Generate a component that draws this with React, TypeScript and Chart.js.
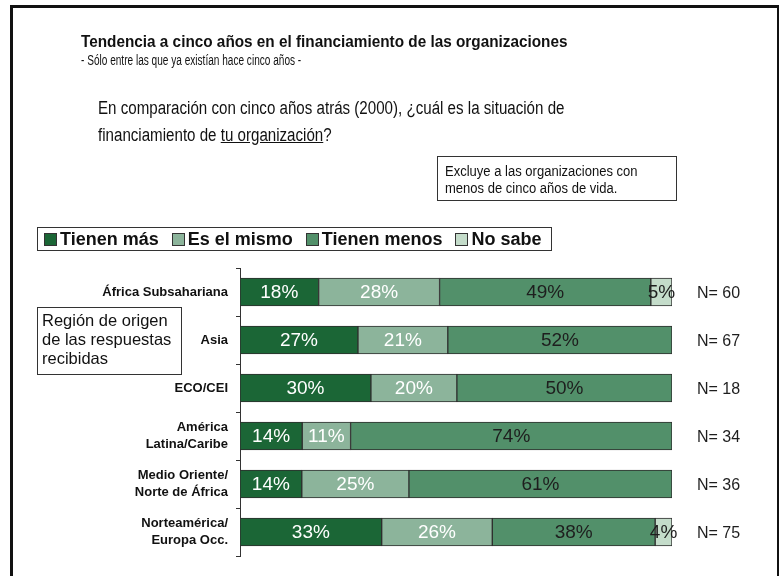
import React, { useEffect, useRef } from "react";
import { Chart, registerables } from "chart.js";

Chart.register(...registerables);

const categories: (string | string[])[] = [
  "África Subsahariana",
  "Asia",
  "ECO/CEI",
  ["América", "Latina/Caribe"],
  ["Medio Oriente/", "Norte de África"],
  ["Norteamérica/", "Europa Occ."],
];
const seriesNames = ["Tienen más", "Es el mismo", "Tienen menos", "No sabe"];
const tienenMas = [18.2, 27.3, 30.3, 14.4, 14.3, 32.8];
const esElMismo = [28.0, 20.8, 19.9, 11.2, 24.8, 25.6];
const tienenMenos = [48.9, 51.9, 49.8, 74.4, 60.9, 37.7];
const noSabe = [4.9, 0, 0, 0, 0, 3.9];
const nValues = [60, 67, 18, 34, 36, 75];

const colors = ["#1b6636", "#8cb49b", "#52906a", "#c4dcca"];
const labelColors = ["#ffffff", "#ffffff", "#1e1e1e", "#1e1e1e"];

const SANS = '"Liberation Sans", Arial, sans-serif';

const valueLabelPlugin = {
  id: "valueLabels",
  afterDatasetsDraw(chart: any) {
    const ctx = chart.ctx;
    ctx.save();
    ctx.font = `19px ${SANS}`;
    ctx.textAlign = "center";
    ctx.textBaseline = "middle";
    chart.data.datasets.forEach((ds: any, di: number) => {
      const meta = chart.getDatasetMeta(di);
      meta.data.forEach((bar: any, i: number) => {
        const v = ds.data[i];
        if (!v) return;
        ctx.fillStyle = labelColors[di];
        ctx.fillText(Math.round(v) + "%", (bar.x + bar.base) / 2, bar.y + 1);
      });
    });
    const yScale = chart.scales.y;
    ctx.fillStyle = "#1e1e1e";
    ctx.font = `16px ${SANS}`;
    ctx.textAlign = "left";
    nValues.forEach((n, i) => {
      ctx.fillText("N= " + n, chart.chartArea.right + 25, yScale.getPixelForValue(i) + 2);
    });
    ctx.restore();
  },
};

const narrow = (sx: number): React.CSSProperties => ({
  transform: `scaleX(${sx})`,
  transformOrigin: "left top",
  whiteSpace: "nowrap",
});

export default function App() {
  const ref = useRef<HTMLCanvasElement>(null);
  useEffect(() => {
    if (!ref.current) return;
    const series = [tienenMas, esElMismo, tienenMenos, noSabe];
    const chart = new Chart(ref.current, {
      type: "bar",
      data: {
        labels: categories,
        datasets: series.map((d, i) => ({
          label: seriesNames[i],
          data: d,
          backgroundColor: colors[i],
          borderColor: "#2e2e2e",
          borderWidth: 1,
          borderSkipped: false,
          barThickness: 28,
        })),
      },
      options: {
        indexAxis: "y",
        animation: false,
        responsive: false,
        maintainAspectRatio: false,
        layout: { padding: { left: 0, top: 268, right: 107, bottom: 20 } },
        plugins: { legend: { display: false }, tooltip: { enabled: false } },
        scales: {
          x: { display: false, stacked: true, min: 0, max: 100 },
          y: {
            stacked: true,
            afterFit: (scale: any) => {
              scale.width = 240;
            },
            grid: {
              offset: true,
              drawOnChartArea: false,
              drawTicks: true,
              tickLength: 4,
              color: "#333",
            },
            border: { display: true, color: "#333", width: 1 },
            ticks: {
              color: "#111",
              padding: 8,
              font: { family: SANS, size: 13, weight: "bold", lineHeight: 1.3 },
            },
          },
        },
      },
      plugins: [valueLabelPlugin],
    });
    return () => chart.destroy();
  }, []);

  return (
    <div
      style={{
        position: "fixed",
        left: 0,
        top: 0,
        width: 779,
        height: 576,
        overflow: "hidden",
        background: "#fff",
        fontFamily: SANS,
        color: "#111",
      }}
    >
      <canvas ref={ref} width={779} height={576} style={{ position: "absolute", left: 0, top: 0 }} />
      <div
        style={{
          position: "absolute",
          left: 10,
          top: 5,
          width: 764,
          height: 620,
          border: "3px solid #111",
          pointerEvents: "none",
        }}
      />
      <div style={{ position: "absolute", left: 81, top: 33, fontWeight: "bold", fontSize: 16, ...narrow(0.957) }}>
        Tendencia a cinco años en el financiamiento de las organizaciones
      </div>
      <div style={{ position: "absolute", left: 81, top: 52, fontSize: 14, ...narrow(0.72) }}>
        - Sólo entre las que ya existían hace cinco años -
      </div>
      <div style={{ position: "absolute", left: 98, top: 95, fontSize: 18, lineHeight: "27px", ...narrow(0.84) }}>
        En comparación con cinco años atrás (2000), ¿cuál es la situación de
        <br />
        financiamiento de <span style={{ textDecoration: "underline" }}>tu organización</span>?
      </div>
      <div
        style={{
          position: "absolute",
          left: 437,
          top: 156,
          width: 240,
          height: 45,
          border: "1px solid #333",
          boxSizing: "border-box",
        }}
      >
        <div style={{ position: "absolute", left: 7, top: 6, fontSize: 14, lineHeight: "17px", ...narrow(0.93) }}>
          Excluye a las organizaciones con
          <br />
          menos de cinco años de vida.
        </div>
      </div>
      <div
        style={{
          position: "absolute",
          left: 37,
          top: 227,
          width: 515,
          height: 24,
          border: "1px solid #333",
          boxSizing: "border-box",
          display: "flex",
          alignItems: "center",
          paddingLeft: 6,
          fontWeight: "bold",
          fontSize: 18,
          whiteSpace: "nowrap",
        }}
      >
        {seriesNames.map((name, i) => (
          <span key={name} style={{ display: "flex", alignItems: "center", marginRight: 13 }}>
            <span
              style={{
                display: "inline-block",
                width: 11,
                height: 11,
                background: colors[i],
                border: "1px solid #333",
                marginRight: 3,
              }}
            />
            {name}
          </span>
        ))}
      </div>
      <div
        style={{
          position: "absolute",
          left: 37,
          top: 307,
          width: 145,
          height: 68,
          border: "1px solid #333",
          boxSizing: "border-box",
          fontSize: 16.5,
          lineHeight: "19px",
          padding: "3px 0 0 4px",
          whiteSpace: "nowrap",
        }}
      >
        Región de origen
        <br />
        de las respuestas
        <br />
        recibidas
      </div>
    </div>
  );
}
